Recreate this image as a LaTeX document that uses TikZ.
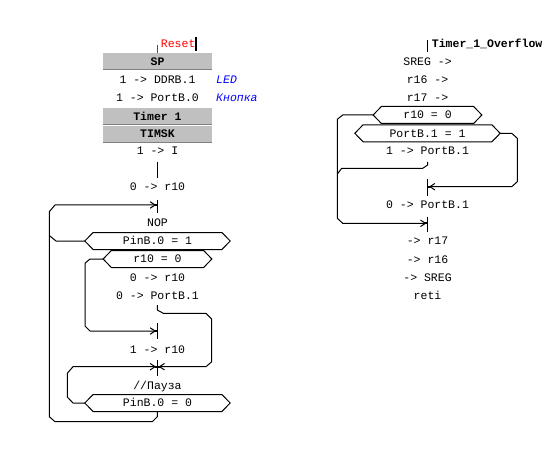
\documentclass[tikz,border=0pt]{standalone}
\usepackage{fontspec}
\setmonofont{Liberation Mono}
\usetikzlibrary{arrows.meta}
\definecolor{boxgray}{HTML}{C0C0C0}
\definecolor{boxedge}{HTML}{808080}
\newcommand\hexframe[1]{\draw[ln] ([xshift=8.3pt]#1.north west) -- ([xshift=-8.3pt]#1.north east) -- (#1.east) -- ([xshift=-8.3pt]#1.south east) -- ([xshift=8.3pt]#1.south west) -- (#1.west) -- cycle;}
\newcommand\jdot[1]{\fill (#1) ++(-1.25,-1) rectangle ++(2.5,2);}
\begin{document}
\begin{tikzpicture}[x=1pt,y=-1pt,
  font=\ttfamily\fontsize{11.5}{13}\selectfont,
  every node/.style={inner sep=0pt, text height=7.6pt, text depth=0pt},
  lbl/.style={anchor=west, text=blue, font=\ttfamily\itshape\fontsize{11.5}{13}\selectfont},
  gbox/.style={fill=boxgray, minimum width=108.4pt, minimum height=16.5pt, font=\ttfamily\bfseries\fontsize{11.5}{13}\selectfont},
  hexn/.style={minimum height=16.6pt},
  ln/.style={line width=1pt, line join=miter},
  arr/.style={ln, -{Straight Barb[length=5pt,width=6.5pt]}},
  ]
\fill[white] (0,0) rectangle (556,462);
\useasboundingbox (0,0) rectangle (556,462);

% ---------- left column ----------
\draw[red, ln] (157.3,45) -- (157.3,52.7);
\node[anchor=west, text=red] (reset) at (160.7,43.3) {Reset};
\draw[line width=2pt] (195.7,36.7) -- (195.7,50.7);

\node[gbox] (sp) at (157.5,61.3) {SP};
\draw[boxedge, line width=1.2pt] (sp.south west) -- (sp.south east);
\node (ddrb) at (157.5,79.3) {1 -> DDRB.1};
\node[lbl] (led) at (216,79.3) {LED};
\node (portb0) at (157.5,97.7) {1 -> PortB.0};
\node[lbl] (knopka) at (216,97.7) {Кнопка};
\node[gbox] (timer) at (157.5,116.3) {Timer 1};
\draw[boxedge, line width=1.2pt] (timer.south west) -- (timer.south east);
\node[gbox] (timsk) at (157.5,134.2) {TIMSK};
\draw[boxedge, line width=1.2pt] (timsk.south west) -- (timsk.south east);
\node (seti) at (157.5,151) {1 -> I};
\coordinate (s0a) at (157.3,161.7);
\coordinate (s0b) at (157.3,178);
\draw[ln] (s0a) -- (s0b);
\node (zr10) at (157.5,186.7) {0 -> r10};

\coordinate (j1) at (156,205);
\draw[ln] (157.3,200) -- (157.3,213);
\node (nop) at (157.5,222.7) {NOP};
\node[hexn, minimum width=145pt] (pin1) at (157.5,241) {PinB.0 = 1};
\hexframe{pin1}
\node[hexn, minimum width=108.4pt] (r10a) at (157.5,259) {r10 = 0};
\hexframe{r10a}
\node (zr10b) at (157.5,277.3) {0 -> r10};
\node (zpb1) at (157.5,295.3) {0 -> PortB.1};

\coordinate (j2) at (156,331);
\draw[ln] (157.3,323.3) -- (157.3,339.3);
\node (or10) at (157.5,349.3) {1 -> r10};
\coordinate (j3l) at (156,366.7);
\coordinate (j3r) at (158.6,366.7);
\draw[ln] (157.3,360) -- (157.3,376);
\node (pause) at (157.5,385.7) {//Пауза};
\node[hexn, minimum width=145pt] (pin0) at (157.5,403) {PinB.0 = 0};
\hexframe{pin0}

% connectors, left
\draw[arr] (pin0.south -| 157.3,0) -- (157.3,416.7) -- (152.3,421.7) -- (55,421.7) -- (49.3,416.7) -- (49.3,211.7) -- (55,205) -- (j1);
\draw[ln] (pin1.west) -- (56,241) -- (49.3,235.5);
\draw[arr] (r10a.west) -- (90,259) -- (85,263.3) -- (85,326) -- (90,331) -- (j2);
\draw[arr] ([yshift=-5.9pt]zpb1.south -| 157.3,0) -- (157.3,310) -- (163.3,313.3) -- (206,313.3) -- (211.7,319) -- (211.7,361.7) -- (206,366.7) -- (j3r);
\draw[arr] (pin0.west) -- (73,403) -- (67.3,397) -- (67.3,373.3) -- (73,366.7) -- (j3l);
\jdot{155.8,205}
\jdot{155.8,331}
\jdot{155.8,366.7}
\jdot{158.8,366.7}

% ---------- right column ----------
\draw[ln] (427.7,40) -- (427.7,51.7);
\node[anchor=west, font=\ttfamily\bfseries\fontsize{11.5}{13}\selectfont] (title) at (431.7,43.3) {Timer\_1\_Overflow};
\node (sreg) at (427.5,61.7) {SREG ->};
\node (r16) at (427.5,80) {r16 ->};
\node (r17) at (427.5,97.7) {r17 ->};
\node[hexn, minimum width=108.4pt] (r10b) at (427.5,115) {r10 = 0};
\hexframe{r10b}
\node[hexn, minimum width=145pt] (pb11) at (427.5,133.3) {PortB.1 = 1};
\hexframe{pb11}
\node (opb) at (427.5,150.7) {1 -> PortB.1};
\coordinate (j4) at (429,186.7);
\draw[ln] (427.7,179) -- (427.7,195.7);
\node (zpb) at (427.5,205) {0 -> PortB.1};
\coordinate (j5) at (426.4,223.3);
\draw[ln] (427.7,216.7) -- (427.7,231.7);
\node (pr17) at (427.5,240.7) {-> r17};
\node (pr16) at (427.5,259.3) {-> r16};
\node (psreg) at (427.5,277.3) {-> SREG};
\node (reti) at (427.5,295.7) {reti};

\draw[ln] ([yshift=-7.2pt]opb.south -| 427.7,0) -- (427.7,165) -- (422.7,168.3) -- (341.7,168.3) -- (337.3,174);
\draw[arr] (r10b.west) -- (342.7,115) -- (337.3,119.3) -- (337.3,218.3) -- (342.7,223.3) -- (j5);
\draw[arr] (pb11.east) -- (511.7,133.3) -- (517.3,138.3) -- (517.3,181.7) -- (511.7,186.7) -- (j4);
\jdot{426.2,223.3}
\jdot{429.2,186.7}
\end{tikzpicture}
\end{document}
